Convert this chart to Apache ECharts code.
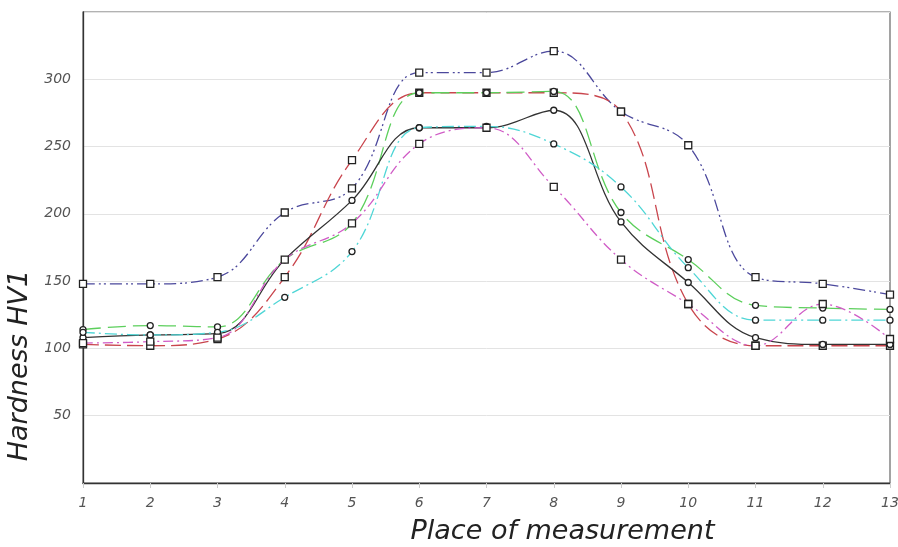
<!DOCTYPE html>
<html>
<head>
<meta charset="utf-8">
<script src="https://cdn.jsdelivr.net/npm/echarts@6/dist/echarts.min.js"></script>
<style>
  html, body { margin: 0; padding: 0; background: #fff; }
  #hardnessChart { width: 898px; height: 547px; }
</style>
</head>
<body>
<div id="hardnessChart"></div>
<script>
// places of measurement
var places = ["1", "2", "3", "4", "5", "6", "7", "8", "9", "10", "11", "12", "13"];

// hardness HV1
var navyLine    = [148, 148, 153, 201, 219, 305, 305, 321, 276, 251, 153, 148, 140];
var redLine     = [103, 102, 107, 153, 240, 290, 290, 290, 276, 133, 102, 102, 102];
var greenLine   = [114, 117, 116, 166, 193, 290, 290, 291, 201, 166, 132, 130, 129];
var blackLine   = [108, 110, 111, 166, 210, 264, 264, 277, 194, 149, 108, 103, 103];
var cyanLine    = [112, 110, 112, 138, 172, 264, 265, 252, 220, 160, 121, 121, 121];
var magentaLine = [104, 105, 108, 166, 193, 252, 264, 220, 166, 133, 102, 133, 107];

var axisFont = "DejaVu Sans";

function buatSeri(nama, data, warna, dash, simbol) {
  return {
    name: nama,
    type: "line",
    data: data,
    smooth: 0.4,
    symbol: simbol,
    symbolSize: simbol === "rect" ? 7 : 6,
    showSymbol: true,
    lineStyle: { color: warna, width: 1.3, type: dash },
    itemStyle: { color: "#fff", borderColor: "#222", borderWidth: 1.3 },
    z: 3
  };
}

var chart = echarts.init(document.getElementById("hardnessChart"));

var option = {
  animation: false,
  backgroundColor: "#fff",
  grid: {
    left: 83, right: 8, top: 12, bottom: 64,
    outerBoundsMode: "none",
    containLabel: false,
    show: true, borderColor: "#666", borderWidth: 1.2
  },
  xAxis: {
    type: "category",
    data: places,
    boundaryGap: false,
    axisLine: { lineStyle: { color: "#333", width: 1.3 } },
    axisTick: { show: true, length: 5, inside: false, lineStyle: { color: "#ccc" } },
    axisLabel: {
      margin: 13, color: "#555", fontSize: 14, fontStyle: "italic", fontFamily: axisFont
    },
    splitLine: { show: false },
    name: "Place of measurement",
    nameLocation: "middle",
    nameGap: 35,
    nameTextStyle: {
      fontSize: 27, fontStyle: "italic", color: "#222", fontFamily: axisFont,
      padding: [0, 0, 0, 152]
    }
  },
  yAxis: {
    type: "value",
    min: 0, max: 350, interval: 50,
    axisLine: { show: true, lineStyle: { color: "#333", width: 1.3 } },
    axisTick: { show: false },
    axisLabel: {
      margin: 12, color: "#555", fontSize: 14, fontStyle: "italic", fontFamily: axisFont,
      padding: [0, 0, 12, 0],
      formatter: function (v) { return (v === 0 || v === 350) ? "" : v; }
    },
    splitLine: { lineStyle: { color: "#e3e3e3", width: 1 } },
    name: "Hardness HV1",
    nameLocation: "middle",
    nameGap: 50,
    nameTextStyle: {
      fontSize: 27, fontStyle: "italic", color: "#222", fontFamily: axisFont,
      padding: [0, 236, 0, 0]
    }
  },
  series: [
    buatSeri("navy", navyLine, "#4b489c", [12, 4, 2, 3, 2, 4], "rect"),
    buatSeri("red", redLine, "#c9454d", [16, 6], "rect"),
    buatSeri("green", greenLine, "#5ccf5c", [18, 7], "circle"),
    buatSeri("black", blackLine, "#333333", "solid", "circle"),
    buatSeri("cyan", cyanLine, "#4fd6d6", [12, 4, 2, 4], "circle"),
    buatSeri("magenta", magentaLine, "#d05cc6", [10, 4, 2, 4], "rect")
  ]
};

chart.setOption(option);
</script>
</body>
</html>
